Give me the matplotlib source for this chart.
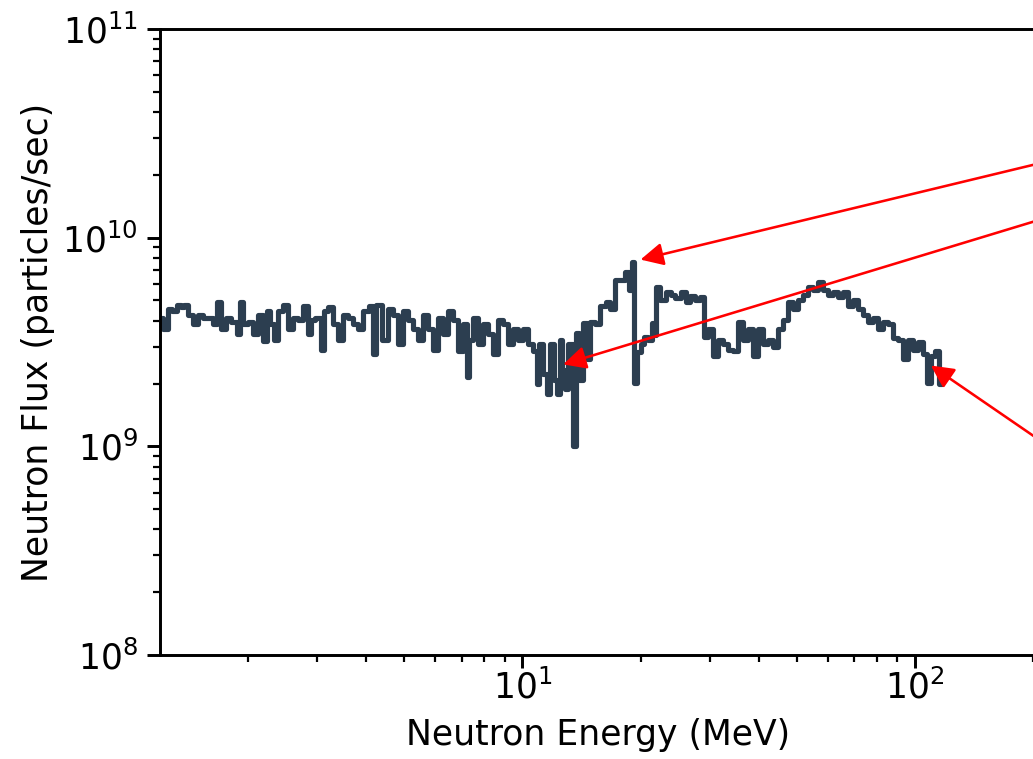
import matplotlib
matplotlib.use("Agg")
import matplotlib.pyplot as plt

# neutron spectrum (energy in MeV, flux in 1e9 particles/sec)
energy = [1.19, 1.23, 1.26, 1.30, 1.33, 1.36, 1.38, 1.42, 1.47, 1.51,
          1.55, 1.60, 1.65, 1.68, 1.72, 1.78, 1.84, 1.89, 1.91, 1.96,
          2.02, 2.08, 2.15, 2.21, 2.25, 2.30, 2.34, 2.41, 2.49, 2.56,
          2.64, 2.72, 2.80, 2.88, 2.91, 3.02, 3.09, 3.16, 3.24, 3.33,
          3.43, 3.53, 3.64, 3.75, 3.86, 3.97, 4.14, 4.19, 4.29, 4.47,
          4.61, 4.74, 4.89, 5.03, 5.18, 5.33, 5.49, 5.66, 5.83, 6.00,
          6.18, 6.36, 6.55, 6.75, 6.95, 7.16, 7.28, 7.37, 7.59, 7.81,
          8.05, 8.29, 8.53, 8.79, 9.05, 9.32, 9.60, 9.88, 10.2, 10.5,
          10.8, 11.0, 11.1, 11.5, 11.6, 11.9, 12.1, 12.4, 12.5, 12.7,
          12.9, 13.3, 13.6, 13.8, 14.1, 14.5, 14.7, 15.1, 15.5, 16.1,
          16.5, 17.0, 17.5, 18.0, 18.5, 18.9, 19.1, 19.3, 19.8, 20.2,
          20.7, 21.2, 21.6, 21.9, 22.0, 22.8, 23.6, 24.1, 25.0, 25.8,
          26.5, 27.1, 27.9, 28.8, 29.3, 30.2, 31.1, 32.0, 33.0, 34.0,
          34.9, 36.0, 37.1, 38.2, 39.3, 40.5, 41.7, 42.9, 44.2, 45.5,
          46.9, 48.3, 49.7, 51.2, 52.7, 54.3, 55.9, 57.6, 59.3, 61.1,
          62.9, 64.8, 66.7, 68.7, 70.7, 72.8, 75.0, 77.2, 79.5, 81.9,
          84.3, 86.8, 89.4, 92.1, 94.8, 97.7, 100.6, 103.6, 106.7, 108.6,
          111.2, 113.9, 116.5, 117.9]
flux_e9 = [4.14, 3.63, 4.53, 4.43, 4.78, 4.63, 4.78, 4.28, 3.84, 4.28,
           4.14, 4.14, 3.84, 4.94, 3.63, 4.14, 3.96, 3.44, 4.94, 3.84,
           3.96, 3.44, 4.28, 3.18, 4.43, 3.84, 3.25, 4.43, 4.78, 3.63,
           4.14, 4.05, 4.68, 3.44, 4.05, 4.14, 2.91, 4.43, 4.63, 3.84,
           3.25, 4.28, 4.14, 3.84, 3.63, 4.43, 4.73, 2.76, 4.78, 3.25,
           4.53, 4.28, 3.08, 4.43, 4.05, 3.63, 3.25, 4.28, 3.63, 2.91,
           4.14, 3.44, 4.43, 4.05, 2.85, 3.84, 2.15, 3.25, 4.14, 3.08,
           3.84, 3.44, 2.76, 4.05, 3.84, 3.08, 3.63, 3.25, 3.63, 3.08,
           2.85, 1.98, 3.08, 2.21, 1.78, 3.08, 2.09, 1.78, 3.25, 2.33,
           1.88, 3.08, 1.00, 3.51, 2.09, 3.90, 2.61, 3.96, 3.84, 4.68,
           4.89, 4.53, 6.30, 6.30, 6.88, 5.64, 7.68, 2.02, 2.82, 3.08,
           3.36, 3.25, 3.90, 3.40, 5.83, 5.05, 5.52, 5.34, 5.16, 5.52,
           4.94, 5.28, 5.05, 5.22, 3.36, 3.63, 2.70, 3.25, 3.08, 2.91,
           2.85, 3.96, 3.25, 3.63, 2.70, 3.63, 3.08, 3.25, 2.98, 3.63,
           4.05, 4.89, 4.53, 5.05, 5.34, 5.83, 5.64, 6.15, 5.64, 5.34,
           5.52, 5.22, 5.52, 4.68, 5.05, 4.53, 4.28, 3.96, 4.14, 3.63,
           3.96, 3.84, 3.32, 3.25, 2.61, 3.25, 2.91, 3.15, 2.76, 2.02,
           2.70, 2.85, 1.98, 2.28]
flux = [f * 1e9 for f in flux_e9]

# arrow tips (energy, flux) and where their tails start (off to the right)
arrow_tips = [(20.0, 7.85e9), (12.7, 2.47e9), (110.0, 2.44e9)]
arrow_tails = [(537.0, 3.49e10), (537.0, 2.09e10), (537.0, 3.16e8)]

DPI = 265
plt.rcParams['font.size'] = 9.4
fig = plt.figure(figsize=(1033 / DPI, 759 / DPI), dpi=DPI)
# axes run a little past the right edge of the image
ax = fig.add_axes([160 / 1033, 104 / 759, 876 / 1033, 626 / 759])

ax.plot(energy, flux, color='#2c3e50', lw=1.4, drawstyle='steps-mid')
ax.set_xscale('log')
ax.set_yscale('log')
ax.set_xlim(1.19, 204)
ax.set_ylim(1e8, 1e11)
ax.tick_params(axis='x', which='major', pad=0.3)
ax.tick_params(axis='y', which='major', pad=2.5)
ax.set_xlabel('Neutron Energy (MeV)', labelpad=3.5)
ax.set_ylabel('Neutron Flux (particles/sec)', labelpad=2)

for tip, tail in zip(arrow_tips, arrow_tails):
    ax.annotate('', xy=tip, xytext=tail, annotation_clip=False,
                arrowprops=dict(arrowstyle='-|>', color='red', lw=0.7,
                                mutation_scale=13, shrinkA=0, shrinkB=0))

fig.savefig('out.png', dpi=DPI)
